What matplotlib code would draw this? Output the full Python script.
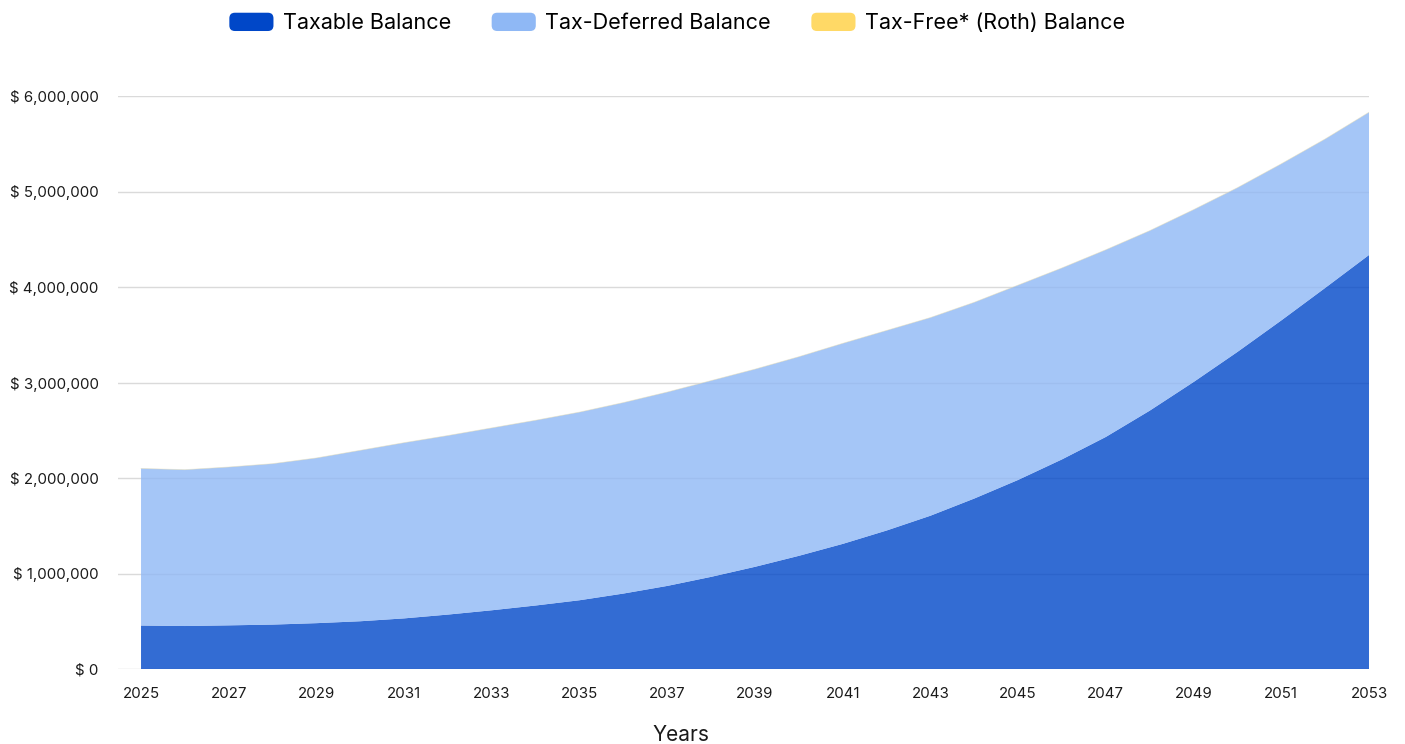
import matplotlib
matplotlib.use("Agg")
import matplotlib.pyplot as plt
import numpy as np
from matplotlib.patches import FancyBboxPatch, Patch
from matplotlib.legend_handler import HandlerPatch
from matplotlib.ticker import FuncFormatter, MultipleLocator

plt.rcParams["font.family"] = ["Inter", "DejaVu Sans"]

years = list(range(2025, 2054))

taxable = [
    455_000, 450_000, 457_000, 465_000, 480_000, 500_000, 530_000, 570_000,
    615_000, 665_000, 720_000, 790_000, 870_000, 965_000, 1_070_000,
    1_185_000, 1_310_000, 1_450_000, 1_605_000, 1_785_000, 1_980_000,
    2_195_000, 2_430_000, 2_705_000, 3_005_000, 3_320_000, 3_650_000,
    3_990_000, 4_335_000,
]
tax_deferred = [
    1_645_000, 1_637_000, 1_658_000, 1_685_000, 1_730_000, 1_790_000,
    1_840_000, 1_875_000, 1_910_000, 1_940_000, 1_970_000, 2_000_000,
    2_030_000, 2_055_000, 2_070_000, 2_085_000, 2_100_000, 2_095_000,
    2_075_000, 2_055_000, 2_040_000, 2_005_000, 1_960_000, 1_885_000,
    1_805_000, 1_720_000, 1_640_000, 1_560_000, 1_495_000,
]
tax_free = [0] * len(years)

labels = ["Taxable Balance", "Tax-Deferred Balance", "Tax-Free* (Roth) Balance"]
colors = ["#0047C8", "#8FB8F5", "#FFD966"]


class RoundedHandler(HandlerPatch):
    def create_artists(self, legend, orig_handle, xdescent, ydescent,
                       width, height, fontsize, trans):
        p = FancyBboxPatch((-xdescent, -ydescent), width, height,
                           boxstyle="round,pad=0,rounding_size=%.1f" % (height * 0.3),
                           facecolor=orig_handle.get_facecolor(),
                           edgecolor="none", transform=trans)
        return [p]


fig = plt.figure(figsize=(14.05, 7.44), dpi=100)
ax = fig.add_axes([118 / 1405, 1 - 669 / 744, (1369 - 118) / 1405, (669 - 96) / 744])

ax.set_axisbelow(True)
ax.grid(axis="y", color="#DADADA", linewidth=1)
ax.grid(axis="x", visible=False)

ax.stackplot(years, taxable, tax_deferred, tax_free,
             colors=colors, alpha=0.8, linewidth=0)
total = np.array(taxable) + np.array(tax_deferred) + np.array(tax_free)
ax.plot(years, total, color="#E8DDB0", linewidth=0.6, alpha=0.5)

ax.set_xlim(2024.475, 2053)
ax.set_ylim(0, 6_000_000)
ax.set_xticks(years[::2])
ax.yaxis.set_major_locator(MultipleLocator(1_000_000))
ax.yaxis.set_major_formatter(FuncFormatter(lambda v, _: f"$ {v:,.0f}"))
ax.tick_params(axis="both", length=0, labelsize=10.8, labelcolor="#1a1a1a")
ax.tick_params(axis="x", pad=13)
ax.tick_params(axis="y", pad=14)
for s in ax.spines.values():
    s.set_visible(False)

ax.set_xlabel("Years", fontsize=15, color="#1a1a1a")
ax.xaxis.set_label_coords((681 - 118) / (1369 - 118), -0.097)

handles = [Patch(facecolor=c) for c in colors]
fig.legend(handles, labels, loc="center", bbox_to_anchor=(677 / 1405, 1 - 23 / 744),
           ncol=3, frameon=False, fontsize=15.5, handlelength=2.05, handleheight=0.93,
           handletextpad=0.42, columnspacing=1.9,
           handler_map={Patch: RoundedHandler()})

fig.savefig("out.png", dpi=100)
